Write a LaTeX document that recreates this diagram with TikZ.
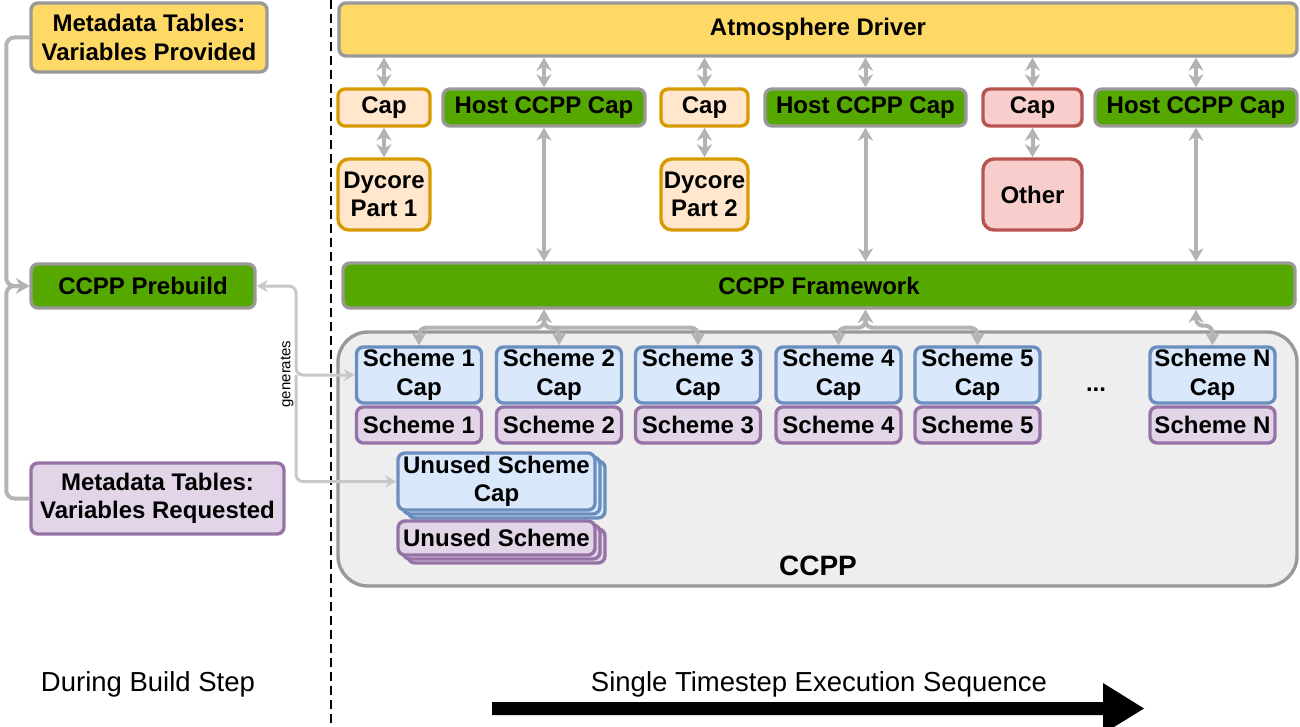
\documentclass[tikz,border=0pt]{standalone}
\usepackage{fontspec}
\setmainfont{Liberation Sans}
\usetikzlibrary{arrows.meta}
\definecolor{yel}{HTML}{FFD966}
\definecolor{bgray}{HTML}{999999}
\definecolor{grn}{HTML}{55A800}
\definecolor{orf}{HTML}{FFE6CC}
\definecolor{ord}{HTML}{D79B00}
\definecolor{rdf}{HTML}{F8CECC}
\definecolor{rdd}{HTML}{B85450}
\definecolor{blf}{HTML}{DAE8FC}
\definecolor{bld}{HTML}{6C8EBF}
\definecolor{puf}{HTML}{E1D5E7}
\definecolor{pud}{HTML}{9673A6}
\definecolor{contf}{HTML}{EEEEEE}
\definecolor{arr}{HTML}{B3B3B3}
\definecolor{arrl}{HTML}{C8C8C8}
\begin{document}
\begin{tikzpicture}[x=1pt,y=-1pt,
  box/.style={rounded corners=7pt, line width=3.4pt, align=center, inner sep=0pt,
    font=\bfseries\fontsize{24}{28.5}\selectfont},
  yelbox/.style={box, draw=bgray, fill=yel},
  grnbox/.style={box, draw=bgray, fill=grn},
  orbox/.style={box, draw=ord, fill=orf},
  rdbox/.style={box, draw=rdd, fill=rdf},
  blbox/.style={box, draw=bld, fill=blf},
  pubox/.style={box, draw=pud, fill=puf},
  tipA/.tip={Stealth[length=13pt,width=15pt,inset=4pt]},
  tipB/.tip={Stealth[length=11pt,width=12pt,inset=3.5pt]},
  conn/.style={draw=arr, line width=4pt, tipA-tipA},
  feed/.style={draw=arr, line width=4pt, rounded corners=8pt, -tipA},
  gen/.style={draw=arrl, line width=3pt, rounded corners=7pt},
]
\useasboundingbox (0,0) rectangle (1300,727);

% separator
\coordinate (septop) at (331,0);
\coordinate (sepbot) at (331,727);
\draw[black, line width=2.6pt, dash pattern=on 9pt off 5pt] (septop) -- (sepbot);

% left column
\node[yelbox, minimum width=236, minimum height=69] (mtp) at (149,37.5) {Metadata Tables:\\Variables Provided};
\node[grnbox, minimum width=224, minimum height=44] (pre) at (143,286) {CCPP Prebuild};
\node[pubox, minimum width=253, minimum height=71] (mtr) at (157.5,498.5) {Metadata Tables:\\Variables Requested};

\draw[feed] (mtp.west) -- ++(-23,0) |- (pre.west);
\draw[feed] (mtr.west) -- ++(-23,0) |- (pre.west);

% CCPP container
\node[draw=bgray, fill=contf, line width=3.4pt, rounded corners=30pt, minimum width=959, minimum height=254, inner sep=0pt] (ccpp) at (817.5,459) {};
\node[font=\bfseries\fontsize{28}{32}\selectfont, inner sep=0pt] (ccpplbl) at (818,566) {CCPP};

% driver and caps
\node[yelbox, minimum width=958, minimum height=53] (drv) at (818,29.5) {Atmosphere Driver};
\node[orbox, minimum width=92, minimum height=37] (cap1) at (384,107.5) {Cap};
\node[grnbox, minimum width=202, minimum height=37] (host1) at (544,107.5) {Host CCPP Cap};
\node[orbox, minimum width=87, minimum height=37] (cap2) at (704.5,107.5) {Cap};
\node[grnbox, minimum width=201, minimum height=37] (host2) at (865.5,107.5) {Host CCPP Cap};
\node[rdbox, minimum width=99, minimum height=37] (cap3) at (1032.5,107.5) {Cap};
\node[grnbox, minimum width=202, minimum height=37] (host3) at (1196,107.5) {Host CCPP Cap};

\node[orbox, rounded corners=11pt, minimum width=92, minimum height=71] (dy1) at (384,194.5) {Dycore\\Part 1};
\node[orbox, rounded corners=11pt, minimum width=87, minimum height=71] (dy2) at (704.5,194.5) {Dycore\\Part 2};
\node[rdbox, rounded corners=11pt, minimum width=99, minimum height=71] (oth) at (1032.5,194.5) {Other};

\node[grnbox, minimum width=952, minimum height=45] (fw) at (819,285.5) {CCPP Framework};

\foreach \n in {cap1,host1,cap2,host2,cap3,host3}
  \draw[conn] (drv.south -| \n.north) -- (\n.north);
\foreach \a/\b in {cap1/dy1,cap2/dy2,cap3/oth}
  \draw[conn] (\a.south) -- (\b.north);
\foreach \n in {host1,host2,host3}
  \draw[conn] (\n.south) -- (fw.north -| \n.south);

% schemes
\foreach \i/\x in {1/419,2/559,3/698,4/838.5,5/977.5,N/1212.5}{
  \node[blbox, minimum width=125, minimum height=56] (sc\i) at (\x,375) {Scheme \i\\Cap};
  \node[pubox, minimum width=125, minimum height=36] (s\i) at (\x,425) {Scheme \i};
}
\node[font=\bfseries\fontsize{24}{28}\selectfont, inner sep=0pt] (dots) at (1096,390) {...};

% unused (stacked)
\node[blbox, minimum width=197, minimum height=57] (uc3) at (506.5,489.5) {};
\node[blbox, minimum width=197, minimum height=57] (uc2) at (501.5,485.5) {};
\node[blbox, minimum width=197, minimum height=57] (uc) at (496.5,481.5) {Unused Scheme\\Cap};
\node[pubox, minimum width=197, minimum height=34] (us3) at (506.5,546) {};
\node[pubox, minimum width=197, minimum height=34] (us2) at (501.5,542) {};
\node[pubox, minimum width=197, minimum height=34] (us) at (496.5,538) {Unused Scheme};

% framework to scheme caps
\foreach \n in {sc1,sc2,sc3}
  \draw[conn, rounded corners=7pt] (fw.south -| host1.south) -- ++(0,18) -| (\n.north);
\foreach \n in {sc4,sc5}
  \draw[conn, rounded corners=7pt] (fw.south -| host2.south) -- ++(0,18) -| (\n.north);
\draw[conn, rounded corners=7pt] (fw.south -| host3.south) -- ++(0,16) -| (scN.north);

% generates
\coordinate (gx) at (296,0);
\draw[gen, tipB-tipB] (pre.east) -| (gx |- sc1.west) -- (sc1.west);
\draw[gen, -tipB] (gx |- sc1.west) |- (uc.west);
\node[rotate=90, font=\fontsize{15}{17}\selectfont, inner sep=0pt] (genlbl) at (287,374) {generates};

% bottom
\node[font=\fontsize{27.5}{31}\selectfont, inner sep=0pt] (build) at (148,684) {During Build Step};
\node[font=\fontsize{27.5}{31}\selectfont, inner sep=0pt] (seq) at (819,684) {Single Timestep Execution Sequence};
\fill[black] (492,702) -- (1103,702) -- (1103,683) -- (1144,708.5) -- (1114,727) -- (1103,727) -- (1103,715) -- (492,715) -- cycle;
\end{tikzpicture}
\end{document}
